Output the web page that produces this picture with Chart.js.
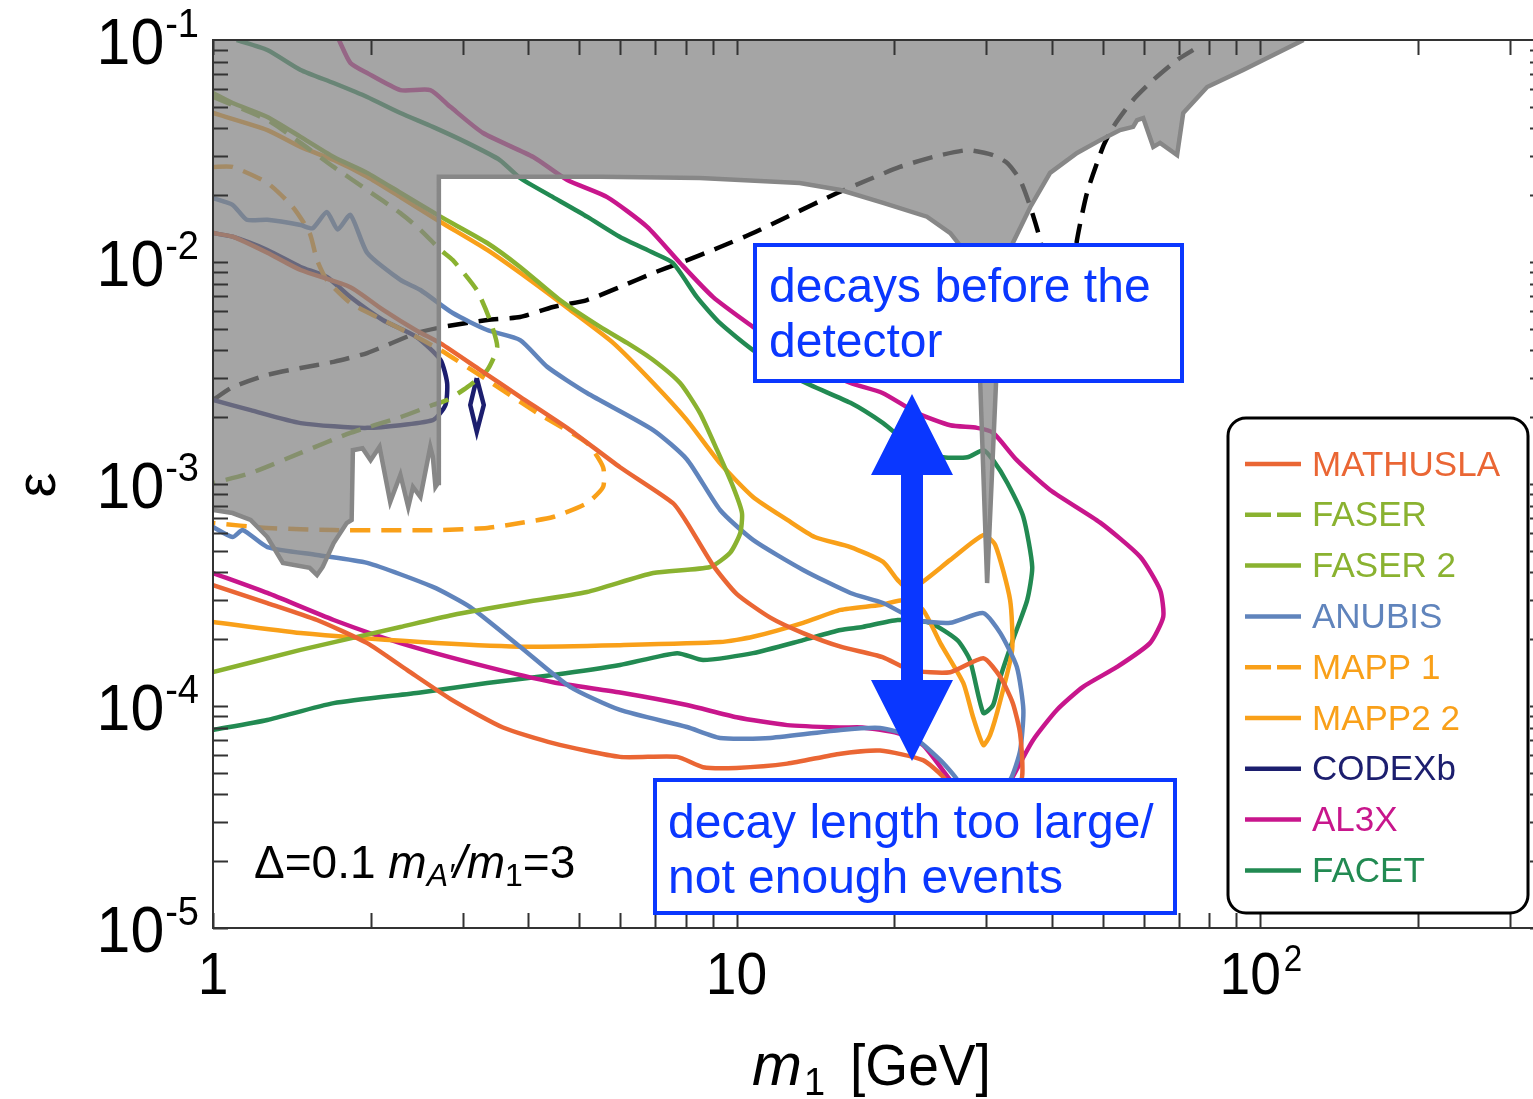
<!DOCTYPE html>
<html>
<head>
<meta charset="utf-8">
<script src="https://cdn.jsdelivr.net/npm/chart.js@4.4.1/dist/chart.umd.min.js"></script>
<style>
  html, body { margin: 0; padding: 0; background: #fff; overflow: hidden; width: 1533px; height: 1099px; }
  canvas { display: block; }
</style>
</head>
<body>
<canvas id="reach" width="1560" height="1099"></canvas>
<script>
// sensitivity contours, [m1 in GeV, epsilon]
const mathusla = [[1.0,0.0135],[1.09,0.0130],[1.27,0.0110],[1.47,0.0092],[1.83,0.0077],[2.11,0.0061],[2.45,0.0049],[2.72,0.0043],[3.24,0.00326],[3.86,0.00247],[4.81,0.00175],[5.99,0.00119],[7.56,0.00082],[8.04,0.00067],[9.02,0.00043],[10.0,0.00032],[11.6,0.00025],[13.4,0.000213],[15.8,0.000185],[19.0,0.000166],[21.5,0.000145],[25.6,0.000142],[29.6,0.000164],[31.9,0.000135],[33.7,0.000103],[34.8,7.5e-5],[35.1,4.8e-5],[33.3,3.8e-5],[26.7,3.8e-5],[24.8,4.8e-5],[22.7,5.7e-5],[18.8,6.3e-5],[15.8,6.1e-5],[12.5,5.5e-5],[10.0,5.26e-5],[8.63,5.3e-5],[7.70,5.9e-5],[5.99,5.9e-5],[4.46,6.8e-5],[3.58,8.0e-5],[2.87,1.06e-4],[2.35,1.45e-4],[1.97,1.92e-4],[1.58,2.44e-4],[1.27,2.91e-4],[1.0,3.5e-4]];
const faser = [[1.0,0.0554],[1.27,0.0436],[1.47,0.0344],[1.70,0.0268],[1.97,0.0211],[2.28,0.0166],[2.49,0.01396],[2.72,0.01133],[2.87,0.0102],[3.19,0.00748],[3.38,0.00548],[3.49,0.00414],[3.34,0.00326],[3.06,0.00273],[2.80,0.00239],[2.63,0.00227],[2.28,0.0020],[1.83,0.0017],[1.47,0.00138],[1.18,0.00112],[1.0,0.00101]];
const faser2 = [[1.0,0.0577],[1.09,0.0520],[1.27,0.0450],[1.47,0.0366],[1.70,0.0297],[1.97,0.0252],[2.28,0.0205],[2.72,0.0160],[3.34,0.01218],[3.86,0.0095],[4.60,0.00674],[5.49,0.0051],[6.18,0.00432],[6.93,0.00362],[7.80,0.00285],[8.51,0.00209],[9.18,0.00142],[9.85,0.00097],[10.24,0.00074],[10.16,0.0006],[9.72,0.00049],[8.90,0.000423],[6.93,0.000397],[5.18,0.000326],[3.86,0.000291],[2.87,0.000257],[2.28,0.000227],[1.47,0.000179],[1.0,0.000142]];
const anubis = [[1.0,0.0194],[1.09,0.0181],[1.16,0.0155],[1.27,0.0155],[1.47,0.01468],[1.55,0.0142],[1.65,0.0168],[1.73,0.0140],[1.83,0.0163],[1.97,0.0110],[2.28,0.0083],[2.49,0.00748],[2.87,0.00589],[3.34,0.00494],[3.86,0.00445],[4.35,0.00337],[5.18,0.00257],[6.93,0.00175],[8.04,0.00129],[9.30,0.000764],[10.75,0.00056],[13.4,0.00041],[16.5,0.000323],[19.05,0.000291],[22.1,0.000244],[25.6,0.000237],[29.6,0.000262],[31.9,0.000213],[34.3,0.00015],[35.3,9.6e-5],[34.8,6.3e-5],[33.3,4.64e-5],[30.5,3.8e-5],[27.3,3.8e-5],[26.4,4.64e-5],[24.5,5.7e-5],[21.7,7.25e-5],[18.8,7.96e-5],[15.8,7.8e-5],[11.6,7.18e-5],[9.30,7.18e-5],[8.04,8.04e-5],[5.99,9.6e-5],[4.81,0.000122],[3.86,0.000185],[3.10,0.000279],[2.63,0.000344],[1.97,0.000441],[1.58,0.000479],[1.27,0.00052],[1.14,0.00062],[1.09,0.000577],[1.0,0.00064]];
const mapp1 = [[1.0,0.0268],[1.09,0.0268],[1.27,0.0227],[1.42,0.0177],[1.53,0.0135],[1.58,0.0102],[1.65,0.0083],[1.83,0.00654],[2.11,0.00548],[2.45,0.00459],[2.72,0.00401],[3.34,0.00294],[4.16,0.00209],[5.18,0.00153],[5.56,0.00119],[5.56,0.00097],[5.18,0.00082],[4.46,0.00071],[3.86,0.000667],[3.34,0.000634],[2.68,0.00062],[1.70,0.00062],[1.27,0.000634],[1.0,0.000667]];
const mapp2 = [[1.0,0.0469],[1.27,0.0393],[1.47,0.0330],[1.70,0.0288],[1.97,0.0242],[2.28,0.0196],[2.72,0.01514],[3.34,0.01133],[4.03,0.0083],[4.81,0.00608],[5.81,0.00432],[6.93,0.00285],[8.04,0.00194],[9.30,0.00124],[10.75,0.000874],[12.5,0.000689],[14.1,0.000577],[16.5,0.00052],[19.05,0.000446],[20.3,0.00037],[21.45,0.000333],[25.6,0.000455],[29.6,0.000589],[31.2,0.000531],[33.3,0.0003],[33.6,0.000179],[31.9,0.000106],[30.5,7.4e-5],[29.6,6.67e-5],[28.3,8.9e-5],[27.1,0.000127],[24.5,0.000192],[22.7,0.000271],[21.0,0.0003],[18.8,0.000285],[15.8,0.000271],[13.4,0.000237],[10.75,0.000205],[9.30,0.000194],[5.99,0.000188],[3.86,0.000185],[2.49,0.000194],[1.47,0.000213],[1.0,0.000239]];
const codexb = [[1.0,0.0135],[1.09,0.0130],[1.27,0.01133],[1.47,0.0095],[1.65,0.00856],[1.83,0.00695],[2.11,0.00548],[2.45,0.00459],[2.72,0.00362],[2.80,0.00285],[2.78,0.00227],[2.63,0.00194],[1.97,0.00179],[1.47,0.00188],[1.18,0.00215],[1.0,0.00239]];
const codexbIsland = [[3.19,0.0030],[3.29,0.00227],[3.19,0.00172],[3.10,0.00227],[3.19,0.0030]];
const al3x = [[1.74,0.1],[1.83,0.0788],[1.97,0.071],[2.28,0.0595],[2.60,0.0595],[2.84,0.050],[3.28,0.0381],[4.09,0.0297],[4.75,0.0234],[5.66,0.0196],[6.75,0.0144],[7.80,0.0099],[9.02,0.00695],[10.75,0.0051],[13.2,0.00362],[16.5,0.00285],[19.0,0.00257],[22.1,0.00209],[25.6,0.00184],[28.8,0.00179],[30.9,0.0017],[34.3,0.00128],[39.7,0.00094],[49.5,0.00067],[59.0,0.00047],[64.4,0.000333],[65.3,0.000252],[61.6,0.000192],[53.3,0.00015],[45.9,0.000122],[40.9,9.6e-5],[36.8,7.0e-5],[33.7,4.8e-5],[31.9,3.8e-5],[27.9,3.8e-5],[25.6,4.64e-5],[22.7,6.67e-5],[20.3,7.55e-5],[17.4,8.0e-5],[15.8,8.0e-5],[12.5,8.2e-5],[10.0,8.9e-5],[8.04,0.000101],[5.99,0.000115],[4.46,0.000128],[3.34,0.00015],[2.28,0.000192],[1.70,0.000244],[1.27,0.000323],[1.0,0.000397]];
const facet = [[1.11,0.1],[1.27,0.0902],[1.47,0.0733],[1.70,0.0640],[1.97,0.0554],[2.28,0.0469],[2.63,0.0406],[3.06,0.0344],[3.53,0.0288],[3.86,0.0239],[4.46,0.0196],[5.18,0.016],[5.99,0.01296],[6.93,0.0110],[7.56,0.0099],[8.40,0.00695],[9.30,0.0053],[10.75,0.00401],[13.2,0.00294],[16.5,0.00232],[19.05,0.00188],[20.5,0.00163],[22.1,0.00142],[24.8,0.00132],[27.6,0.00132],[29.6,0.00142],[30.9,0.00128],[32.9,0.00101],[35.3,0.00071],[36.7,0.000423],[35.9,0.0003],[33.7,0.000198],[31.9,0.000135],[30.9,0.000101],[29.6,9.3e-5],[27.9,0.000161],[26.4,0.000198],[23.4,0.000237],[20.3,0.000244],[17.4,0.000227],[15.8,0.00022],[13.4,0.000198],[10.75,0.000173],[8.63,0.000161],[7.70,0.000173],[5.99,0.000153],[4.46,0.000138],[3.34,0.000127],[2.49,0.000115],[1.70,0.000103],[1.27,8.65e-5],[1.0,7.8e-5]];
// black dashed curve
const decayCurve = [[1.0,0.00239],[1.09,0.00273],[1.27,0.0031],[1.47,0.00333],[1.70,0.00355],[1.97,0.00389],[2.45,0.00479],[2.75,0.0051],[3.34,0.00548],[3.86,0.00565],[4.46,0.00627],[5.18,0.00674],[5.99,0.00772],[6.93,0.00892],[7.80,0.0099],[9.30,0.01168],[10.75,0.0135],[12.5,0.0160],[15.6,0.0205],[17.8,0.0234],[20.5,0.0268],[23.7,0.0297],[27.6,0.0319],[30.9,0.0303],[32.9,0.0279],[34.8,0.0234],[36.4,0.0177],[38.0,0.0126],[39.7,0.00748],[41.5,0.00674],[43.4,0.00748],[44.7,0.0126],[46.7,0.0205],[50.1,0.033],[52.4,0.0406],[57.2,0.0537],[62.5,0.0661],[69.4,0.0813],[74.5,0.0902]];
// edge of the grey excluded region
const excludedEdge = [[1.0,0.000764],[1.09,0.00074],[1.18,0.000689],[1.27,0.000577],[1.36,0.000441],[1.53,0.000419],[1.58,0.000389],[1.62,0.000423],[1.70,0.000542],[1.80,0.000667],[1.84,0.000689],[1.85,0.00142],[1.93,0.00145],[2.0,0.00128],[2.08,0.00147],[2.18,0.00083],[2.28,0.0011],[2.36,0.000787],[2.41,0.00097],[2.49,0.000874],[2.60,0.00147],[2.63,0.00132],[2.66,0.00097],[2.69,0.00101],[2.70,0.0242],[5.49,0.0242],[8.51,0.0239],[13.2,0.0227],[15.8,0.0211],[19.05,0.01845],[23.1,0.016],[25.6,0.0135],[26.7,0.0119],[28.6,0.00674],[29.2,0.00285],[30.1,0.000358],[31.3,0.00285],[31.9,0.00674],[33.7,0.01218],[36.4,0.0177],[39.7,0.0252],[44.7,0.031],[49.5,0.0354],[54.0,0.0393],[57.2,0.0406],[58.2,0.0436],[59.8,0.0445],[62.5,0.033],[64.4,0.0344],[69.4,0.0303],[71.3,0.0469],[79.2,0.0614],[92.8,0.0733],[121,0.1]];
const excludedCorner = [[1.0,0.1]];

const yDecades = [0.1, 0.01, 0.001, 1e-4, 1e-5];
const yExponents = ['-1', '-2', '-3', '-4', '-5'];
const xMajor = [1, 10, 100];
const xBase = ['1', '10', '10'];
const xSup = ['', '', '2'];

const COL = {
  mathusla: '#EA6634', faser: '#8AB230', anubis: '#6084BC', mapp: '#F9A019',
  codexb: '#1C1E6E', al3x: '#C8168C', facet: '#228A52', note: '#0A37FF'
};
const FONT = '"Liberation Sans", Arial, sans-serif';

const pts = a => a.map(p => ({x: p[0], y: p[1]}));
const curve = (label, arr, color, dash, legend) => ({
  label, data: pts(arr), borderColor: color, borderWidth: 4.5, borderDash: dash || [],
  pointRadius: 0, fill: false, tension: 0.2, order: 3, inLegend: legend !== false
});

const datasets = [
  curve('MATHUSLA', mathusla, COL.mathusla),
  curve('FASER', faser, COL.faser, [20, 11]),
  curve('FASER 2', faser2, COL.faser),
  curve('ANUBIS', anubis, COL.anubis),
  curve('MAPP 1', mapp1, COL.mapp, [20, 11]),
  curve('MAPP2 2', mapp2, COL.mapp),
  curve('CODEXb', codexb, COL.codexb),
  curve('AL3X', al3x, COL.al3x),
  curve('FACET', facet, COL.facet),
  curve('CODEXb island', codexbIsland, COL.codexb, null, false),
  curve('decay', decayCurve, '#000', [20, 11], false),
  { label: 'excluded', data: pts(excludedEdge.concat(excludedCorner)), fill: 'shape',
    backgroundColor: 'rgba(131,131,131,0.73)', borderWidth: 0, pointRadius: 0, tension: 0, order: 1 },
  { label: 'excluded edge', data: pts(excludedEdge), borderColor: '#878787', borderWidth: 4.5,
    pointRadius: 0, fill: false, tension: 0, order: 0 }
];
datasets[9].tension = 0;

function roundBox(ctx, x, y, w, h, r) {
  ctx.beginPath();
  ctx.moveTo(x + r, y);
  ctx.arcTo(x + w, y, x + w, y + h, r);
  ctx.arcTo(x + w, y + h, x, y + h, r);
  ctx.arcTo(x, y + h, x, y, r);
  ctx.arcTo(x, y, x + w, y, r);
  ctx.closePath();
}

function squeezed(ctx, text, x, y, sx) {
  ctx.save();
  ctx.translate(x, y);
  ctx.scale(sx, 1);
  ctx.fillText(text, 0, 0);
  ctx.restore();
}

const decor = {
  id: 'decor',
  afterDraw(chart) {
    const {ctx, chartArea: a, scales: {x, y}} = chart;
    ctx.save();

    // frame and inward ticks
    ctx.strokeStyle = '#333';
    ctx.lineWidth = 2;
    ctx.setLineDash([]);
    ctx.strokeRect(a.left, a.top, a.right - a.left, a.bottom - a.top);
    ctx.beginPath();
    for (let d = 1; d <= 100; d *= 10) {
      for (let m = 1; m <= 9; m++) {
        const v = d * m;
        if (v > 350) break;
        const px = Math.round(x.getPixelForValue(v)) + 0.5;
        ctx.moveTo(px, a.top); ctx.lineTo(px, a.top + 15);
        ctx.moveTo(px, a.bottom); ctx.lineTo(px, a.bottom - 15);
      }
    }
    for (let d = 1e-5; d < 0.1; d *= 10) {
      for (let m = 1; m <= 9; m++) {
        const py = Math.round(y.getPixelForValue(d * m)) + 0.5;
        ctx.moveTo(a.left, py); ctx.lineTo(a.left + 15, py);
        ctx.moveTo(a.right, py); ctx.lineTo(a.right - 15, py);
      }
    }
    ctx.stroke();

    // tick labels
    ctx.fillStyle = '#000';
    ctx.textBaseline = 'alphabetic';
    ctx.textAlign = 'left';
    yDecades.forEach((v, i) => {
      const py = y.getPixelForValue(v);
      ctx.font = '40px ' + FONT;
      const sw = ctx.measureText(yExponents[i]).width * 0.95;
      squeezed(ctx, yExponents[i], 199 - sw, py - 3, 0.95);
      ctx.font = '64px ' + FONT;
      const bw = ctx.measureText('10').width * 0.95;
      squeezed(ctx, '10', 199 - sw - bw - 1, py + 24, 0.95);
    });
    xMajor.forEach((v, i) => {
      const px = x.getPixelForValue(v);
      ctx.font = '60px ' + FONT;
      const bw = ctx.measureText(xBase[i]).width * 0.92;
      let left = px - bw / 2;
      if (xSup[i]) left -= 10;
      squeezed(ctx, xBase[i], left, 994, 0.92);
      if (xSup[i]) {
        ctx.font = '36px ' + FONT;
        squeezed(ctx, xSup[i], left + bw + 3, 971, 0.92);
      }
    });

    // axis titles
    ctx.font = 'italic 60px ' + FONT;
    ctx.fillText('m', 752, 1085);
    ctx.font = '38px ' + FONT;
    ctx.fillText('1', 804, 1095);
    ctx.font = '58px ' + FONT;
    squeezed(ctx, '[GeV]', 850, 1085, 0.95);
    ctx.save();
    ctx.translate(55, 485);
    ctx.rotate(-Math.PI / 2);
    ctx.font = '56px ' + FONT;
    ctx.textAlign = 'center';
    ctx.fillText('\u03B5', 0, 0);
    ctx.restore();

    // parameter note
    ctx.textAlign = 'left';
    let cx = 254;
    const put = (t, font, dy) => { ctx.font = font; ctx.fillText(t, cx, 878 + dy); cx += ctx.measureText(t).width; };
    put('\u0394=0.1 ', '46px ' + FONT, 0);
    put('m', 'italic 46px ' + FONT, 0);
    put('A\u2032', 'italic 32px ' + FONT, 8);
    put('/', 'italic 46px ' + FONT, 0);
    put('m', 'italic 46px ' + FONT, 0);
    put('1', '32px ' + FONT, 8);
    put('=3', '46px ' + FONT, 0);

    // annotation boxes
    ctx.lineWidth = 4;
    ctx.strokeStyle = COL.note;
    ctx.fillStyle = '#fff';
    ctx.fillRect(755, 245, 427, 136);
    ctx.strokeRect(755, 245, 427, 136);
    ctx.fillRect(655, 780, 520, 133);
    ctx.strokeRect(655, 780, 520, 133);
    ctx.fillStyle = COL.note;
    ctx.font = '48px ' + FONT;
    ctx.fillText('decays before the', 769, 302);
    ctx.fillText('detector', 769, 357);
    ctx.fillText('decay length too large/', 668, 838);
    ctx.fillText('not enough events', 668, 893);

    // double arrow
    ctx.beginPath();
    ctx.moveTo(912, 394); ctx.lineTo(953, 475); ctx.lineTo(923, 475); ctx.lineTo(923, 680);
    ctx.lineTo(953, 680); ctx.lineTo(912, 761); ctx.lineTo(871, 680); ctx.lineTo(901, 680);
    ctx.lineTo(901, 475); ctx.lineTo(871, 475); ctx.closePath();
    ctx.fill();

    // legend
    const items = chart.data.datasets.filter(d => d.inLegend);
    roundBox(ctx, 1228, 418, 300, 495, 18);
    ctx.fillStyle = '#fff';
    ctx.fill();
    ctx.strokeStyle = '#000';
    ctx.lineWidth = 3;
    ctx.stroke();
    ctx.textBaseline = 'middle';
    items.forEach((d, i) => {
      const ly = 464 + i * 50.8;
      ctx.strokeStyle = d.borderColor;
      ctx.lineWidth = 4.5;
      ctx.setLineDash(d.borderDash.length ? [26, 6] : []);
      ctx.beginPath(); ctx.moveTo(1245, ly); ctx.lineTo(1301, ly); ctx.stroke();
      ctx.setLineDash([]);
      ctx.fillStyle = d.borderColor;
      ctx.font = '35px ' + FONT;
      ctx.fillText(d.label, 1312, ly + 2);
    });
    ctx.restore();
  }
};

new Chart(document.getElementById('reach'), {
  type: 'line',
  data: { datasets },
  options: {
    responsive: false,
    devicePixelRatio: 1,
    animation: false,
    layout: { padding: { left: 213, right: 15, top: 40, bottom: 171 } },
    plugins: { legend: { display: false }, tooltip: { enabled: false } },
    scales: {
      x: { type: 'logarithmic', min: 1, max: 350, display: false },
      y: { type: 'logarithmic', min: 1e-5, max: 0.1, display: false }
    }
  },
  plugins: [decor]
});
</script>
</body>
</html>
